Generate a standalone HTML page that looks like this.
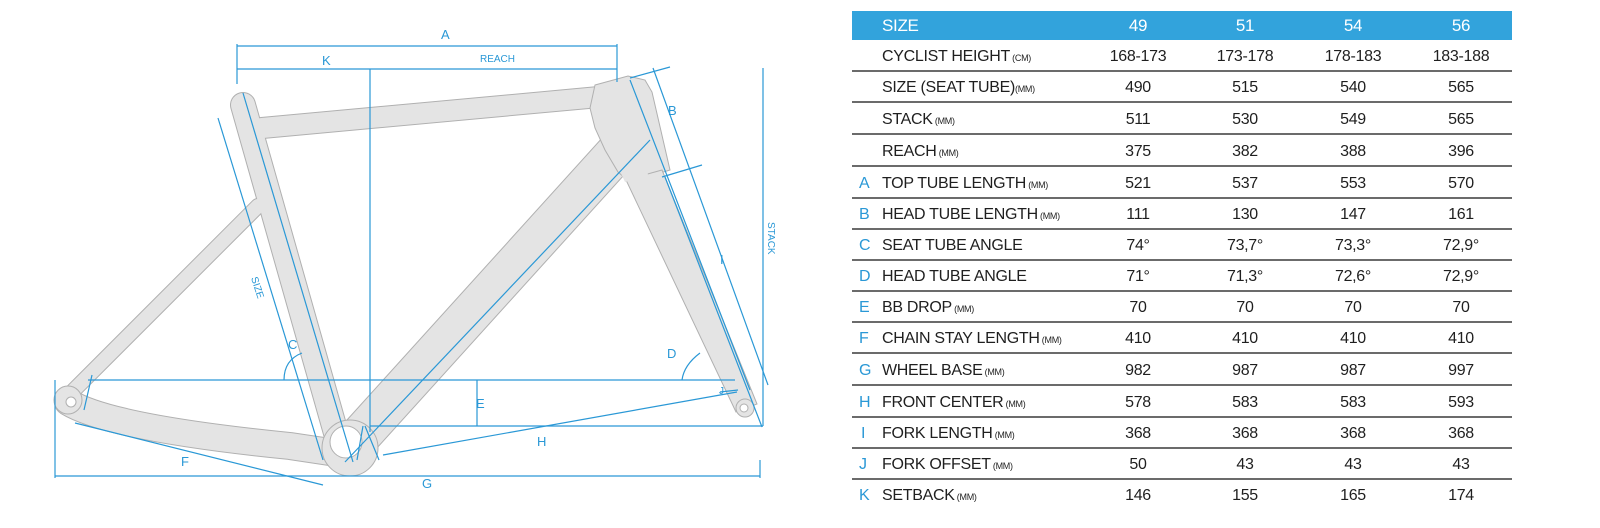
<!DOCTYPE html>
<html><head><meta charset="utf-8"><style>
html,body{margin:0;padding:0;background:#fff;width:1600px;height:528px;overflow:hidden}
svg{display:block}
.t{font-family:"Liberation Sans Narrow","Liberation Sans",sans-serif;font-size:16px;fill:#1f1f1f;letter-spacing:-0.3px}
.s{font-size:9px}
.b{fill:#2a98d6;font-family:"Liberation Sans",sans-serif;font-size:13px}
.bl{stroke:#2a98d6;stroke-width:1.2;fill:none}
</style></head><body>
<svg width="1600" height="528" viewBox="0 0 1600 528" xmlns="http://www.w3.org/2000/svg">
<!-- FRAME outlines -->
<g stroke="#b0b0b0" stroke-linecap="round" fill="none">
 <line x1="243" y1="105" x2="338" y2="440" stroke-width="26"/>
 <line x1="262" y1="128" x2="610" y2="96" stroke-width="22"/>
 <line x1="628" y1="140" x2="352" y2="445" stroke-width="42"/>
 <line x1="258" y1="206" x2="68" y2="396" stroke-width="16"/>
 <path d="M68,402 Q110,428 290,446 L350,455" stroke-width="28"/>
</g>
<g stroke="#e4e4e4" stroke-linecap="round" fill="none">
 <line x1="243" y1="105" x2="338" y2="440" stroke-width="24"/>
 <line x1="262" y1="128" x2="610" y2="96" stroke-width="20"/>
 <line x1="628" y1="140" x2="352" y2="445" stroke-width="40"/>
 <line x1="258" y1="206" x2="68" y2="396" stroke-width="14"/>
 <path d="M68,402 Q110,428 290,446 L350,455" stroke-width="26"/>
</g>
<polygon points="595,85 628,76 645,80 652,92 670,170 650,176 632,184 618,172 605,150 595,128 590,108" fill="#e4e4e4" stroke="#b0b0b0" stroke-width="1"/>
<polygon points="626,180 662,170 757,404 736,412" fill="#e4e4e4" stroke="#b0b0b0" stroke-width="1"/>
<polygon points="600,100 640,88 648,176 625,182 610,150" fill="#e4e4e4"/>
<circle cx="350" cy="448" r="28" fill="#e4e4e4" stroke="#b0b0b0"/>
<circle cx="346" cy="442" r="16" fill="#fff" stroke="#b0b0b0"/>
<circle cx="68" cy="400" r="14" fill="#e4e4e4" stroke="#b0b0b0"/>
<circle cx="71" cy="402" r="5" fill="#fff" stroke="#b0b0b0"/>
<circle cx="745" cy="408" r="9" fill="#e4e4e4" stroke="#b0b0b0"/>
<circle cx="744" cy="408" r="4" fill="#fff" stroke="#b0b0b0"/>
<!-- blue dimension lines -->
<g class="bl">
 <line x1="237" y1="46" x2="617" y2="46"/>
 <line x1="237" y1="44" x2="237" y2="84"/>
 <line x1="237" y1="69" x2="617" y2="69"/>
 <line x1="617" y1="44" x2="617" y2="82"/>
 <line x1="370" y1="69" x2="370" y2="432"/>
 <line x1="243" y1="93" x2="353" y2="462"/>
 <line x1="218" y1="118" x2="323" y2="460"/>
 <line x1="650" y1="140" x2="345" y2="462"/>
 <line x1="630" y1="80" x2="750" y2="390"/>
 <line x1="665" y1="177" x2="762" y2="427"/>
 <line x1="630" y1="78" x2="670" y2="67"/>
 <line x1="662" y1="177" x2="702" y2="165"/>
 <line x1="653" y1="68" x2="768" y2="385"/>
 <line x1="763" y1="68" x2="763" y2="426"/>
 <line x1="88" y1="380" x2="735" y2="380"/>
 <line x1="92" y1="375" x2="84" y2="410"/>
 <line x1="370" y1="426" x2="763" y2="426"/>
 <line x1="477" y1="380" x2="477" y2="426"/>
 <line x1="383" y1="455" x2="737" y2="392"/>
 <line x1="363" y1="426" x2="357" y2="460"/>
 <line x1="365" y1="426" x2="379" y2="460"/>
 <line x1="720" y1="392" x2="738" y2="390"/>
 <line x1="55" y1="380" x2="55" y2="478"/>
 <line x1="55" y1="476" x2="760" y2="476"/>
 <line x1="760" y1="460" x2="760" y2="478"/>
 <line x1="75" y1="423" x2="323" y2="485"/>
 <path d="M284,380 Q284,360 302,353"/>
 <path d="M682,380 Q684,365 700,353"/>
</g>
<text class="b" x="441" y="39">A</text>
<text class="b" x="322" y="65">K</text>
<text class="b" x="480" y="62" style="font-size:10px">REACH</text>
<text class="b" x="668" y="115">B</text>
<text class="b" x="288" y="349">C</text>
<text class="b" x="667" y="358">D</text>
<text class="b" x="476" y="408">E</text>
<text class="b" x="181" y="466">F</text>
<text class="b" x="422" y="488">G</text>
<text class="b" x="537" y="446">H</text>
<text class="b" x="720" y="264">I</text>
<text class="b" x="719" y="394" style="font-size:10px">J</text>
<text class="b" x="0" y="0" style="font-size:10px" transform="translate(251,278) rotate(72)">SIZE</text>
<text class="b" x="0" y="0" style="font-size:10px" transform="translate(768,222) rotate(90)">STACK</text>
<!-- TABLE -->
<rect x="852" y="11" width="660" height="29" fill="#32a3dc"/>
<g>
 <text x="882" y="31" class="t" style="fill:#fff;font-size:17px">SIZE</text>
 <text x="1138" y="31" text-anchor="middle" class="t" style="fill:#fff;font-size:17px">49</text>
 <text x="1245" y="31" text-anchor="middle" class="t" style="fill:#fff;font-size:17px">51</text>
 <text x="1353" y="31" text-anchor="middle" class="t" style="fill:#fff;font-size:17px">54</text>
 <text x="1461" y="31" text-anchor="middle" class="t" style="fill:#fff;font-size:17px">56</text>
</g>
<g stroke="#3a3a3a" stroke-width="1.5">
 <line x1="852" y1="71" x2="1512" y2="71"/><line x1="852" y1="102" x2="1512" y2="102"/>
 <line x1="852" y1="134" x2="1512" y2="134"/><line x1="852" y1="166" x2="1512" y2="166"/>
 <line x1="852" y1="198" x2="1512" y2="198"/><line x1="852" y1="229" x2="1512" y2="229"/>
 <line x1="852" y1="260" x2="1512" y2="260"/><line x1="852" y1="291" x2="1512" y2="291"/>
 <line x1="852" y1="322" x2="1512" y2="322"/><line x1="852" y1="353" x2="1512" y2="353"/>
 <line x1="852" y1="385" x2="1512" y2="385"/><line x1="852" y1="417" x2="1512" y2="417"/>
 <line x1="852" y1="448" x2="1512" y2="448"/><line x1="852" y1="479" x2="1512" y2="479"/>
</g>
<g class="t">
 <text x="882" y="61">CYCLIST HEIGHT<tspan class="s"> (CM)</tspan></text>
 <text x="882" y="92">SIZE (SEAT TUBE)<tspan class="s">(MM)</tspan></text>
 <text x="882" y="124">STACK<tspan class="s"> (MM)</tspan></text>
 <text x="882" y="156">REACH<tspan class="s"> (MM)</tspan></text>
 <text x="882" y="188">TOP TUBE LENGTH<tspan class="s"> (MM)</tspan></text>
 <text x="882" y="219">HEAD TUBE LENGTH<tspan class="s"> (MM)</tspan></text>
 <text x="882" y="250">SEAT TUBE ANGLE</text>
 <text x="882" y="281">HEAD TUBE ANGLE</text>
 <text x="882" y="312">BB DROP<tspan class="s"> (MM)</tspan></text>
 <text x="882" y="343">CHAIN STAY LENGTH<tspan class="s"> (MM)</tspan></text>
 <text x="882" y="375">WHEEL BASE<tspan class="s"> (MM)</tspan></text>
 <text x="882" y="407">FRONT CENTER<tspan class="s"> (MM)</tspan></text>
 <text x="882" y="438">FORK LENGTH<tspan class="s"> (MM)</tspan></text>
 <text x="882" y="469">FORK OFFSET<tspan class="s"> (MM)</tspan></text>
 <text x="882" y="500">SETBACK<tspan class="s"> (MM)</tspan></text>
</g>
<g class="t" style="fill:#2a98d6">
 <text x="859" y="188" style="fill:#2a98d6">A</text><text x="859" y="219" style="fill:#2a98d6">B</text><text x="859" y="250" style="fill:#2a98d6">C</text>
 <text x="859" y="281" style="fill:#2a98d6">D</text><text x="859" y="312" style="fill:#2a98d6">E</text><text x="859" y="343" style="fill:#2a98d6">F</text>
 <text x="859" y="375" style="fill:#2a98d6">G</text><text x="859" y="407" style="fill:#2a98d6">H</text><text x="861" y="438" style="fill:#2a98d6">I</text>
 <text x="859" y="469" style="fill:#2a98d6">J</text><text x="859" y="500" style="fill:#2a98d6">K</text>
</g>
<g class="t" text-anchor="middle">
 <text x="1138" y="61">168-173</text><text x="1245" y="61">173-178</text><text x="1353" y="61">178-183</text><text x="1461" y="61">183-188</text>
 <text x="1138" y="92">490</text><text x="1245" y="92">515</text><text x="1353" y="92">540</text><text x="1461" y="92">565</text>
 <text x="1138" y="124">511</text><text x="1245" y="124">530</text><text x="1353" y="124">549</text><text x="1461" y="124">565</text>
 <text x="1138" y="156">375</text><text x="1245" y="156">382</text><text x="1353" y="156">388</text><text x="1461" y="156">396</text>
 <text x="1138" y="188">521</text><text x="1245" y="188">537</text><text x="1353" y="188">553</text><text x="1461" y="188">570</text>
 <text x="1138" y="219">111</text><text x="1245" y="219">130</text><text x="1353" y="219">147</text><text x="1461" y="219">161</text>
 <text x="1138" y="250">74°</text><text x="1245" y="250">73,7°</text><text x="1353" y="250">73,3°</text><text x="1461" y="250">72,9°</text>
 <text x="1138" y="281">71°</text><text x="1245" y="281">71,3°</text><text x="1353" y="281">72,6°</text><text x="1461" y="281">72,9°</text>
 <text x="1138" y="312">70</text><text x="1245" y="312">70</text><text x="1353" y="312">70</text><text x="1461" y="312">70</text>
 <text x="1138" y="343">410</text><text x="1245" y="343">410</text><text x="1353" y="343">410</text><text x="1461" y="343">410</text>
 <text x="1138" y="375">982</text><text x="1245" y="375">987</text><text x="1353" y="375">987</text><text x="1461" y="375">997</text>
 <text x="1138" y="407">578</text><text x="1245" y="407">583</text><text x="1353" y="407">583</text><text x="1461" y="407">593</text>
 <text x="1138" y="438">368</text><text x="1245" y="438">368</text><text x="1353" y="438">368</text><text x="1461" y="438">368</text>
 <text x="1138" y="469">50</text><text x="1245" y="469">43</text><text x="1353" y="469">43</text><text x="1461" y="469">43</text>
 <text x="1138" y="500">146</text><text x="1245" y="500">155</text><text x="1353" y="500">165</text><text x="1461" y="500">174</text>
</g>
</svg>
</body></html>
